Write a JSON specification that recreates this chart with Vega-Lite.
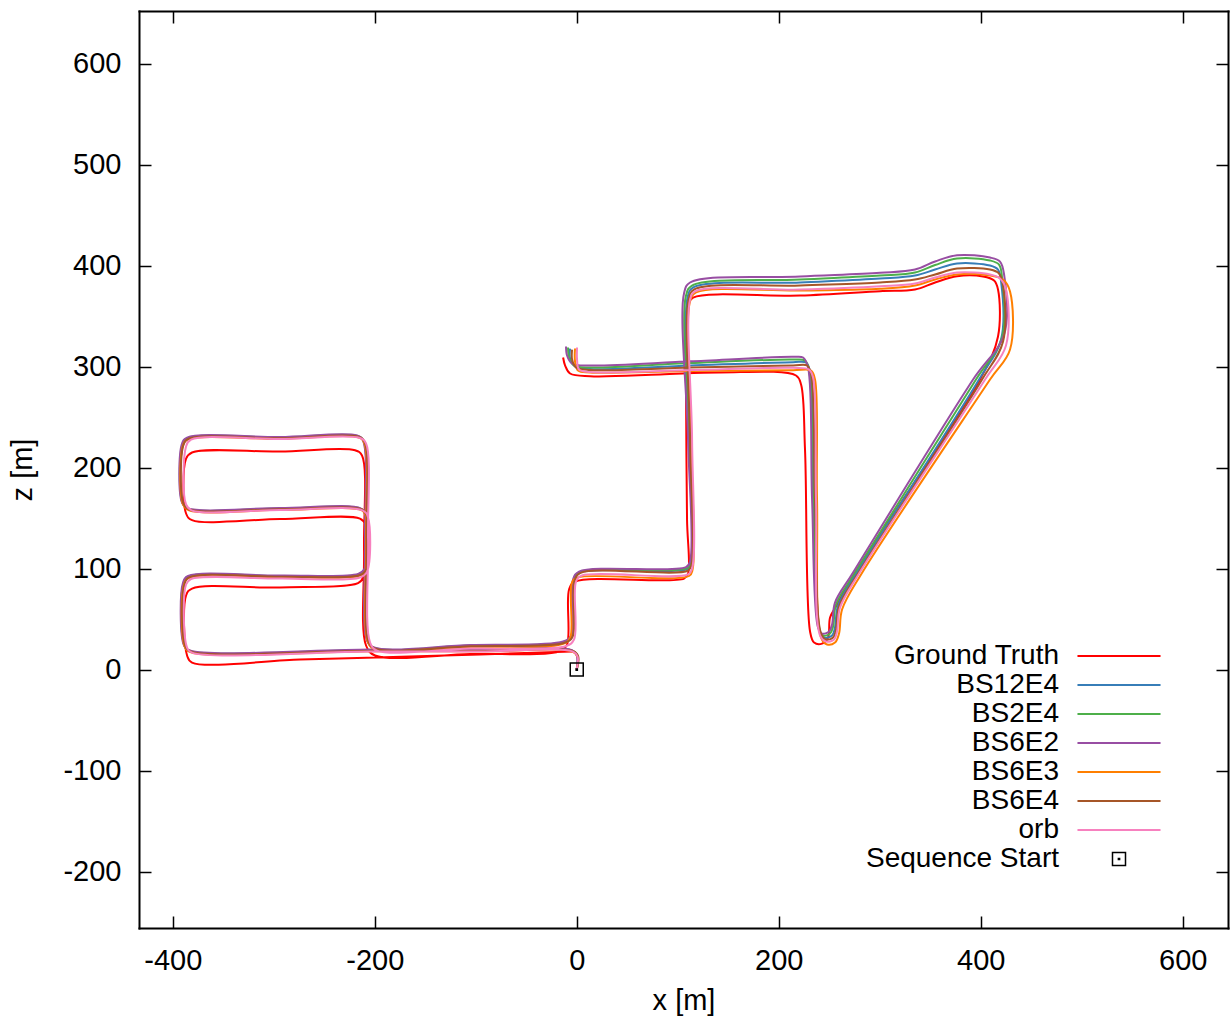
{
"$schema":"https://vega.github.io/schema/vega-lite/v6.json",
"width":1089,"height":917,
"autosize":{"type":"none"},
"padding":{"left":139,"top":11,"right":2,"bottom":91},
"config":{"font":"Liberation Sans","view":{"stroke":null},
"axis":{"domainColor":"black","domainWidth":2,"domainCap":"square","tickColor":"black","tickWidth":1.5,"tickSize":-12,"labelFontSize":29,"labelColor":"black","labelFont":"Liberation Sans","labelPadding":30,"labelFlush":false,"labelOverlap":false,"labelExpr":"'' + datum.value","titleFontSize":29,"titleFont":"Liberation Sans","titleColor":"black","titleFontWeight":"normal","grid":false}},
"datasets":{
"start":[{"label":"Sequence Start","x":0,"z":0}],
"traj":[
{"series":"Ground Truth","i":1,"x":-4.6,"z":17.8},{"series":"Ground Truth","i":2,"x":-95.7,"z":14.9},{"series":"Ground Truth","i":3,"x":-198.7,"z":11.9},{"series":"Ground Truth","i":4,"x":-274.0,"z":9.9},{"series":"Ground Truth","i":5,"x":-380.9,"z":6.9},{"series":"Ground Truth","i":6,"x":-385.8,"z":13.9},{"series":"Ground Truth","i":7,"x":-386.8,"z":73.3},{"series":"Ground Truth","i":8,"x":-380.9,"z":80.2},{"series":"Ground Truth","i":9,"x":-293.8,"z":81.2},{"series":"Ground Truth","i":10,"x":-216.5,"z":85.6},{"series":"Ground Truth","i":11,"x":-211.6,"z":91.1},{"series":"Ground Truth","i":12,"x":-209.6,"z":143.6},{"series":"Ground Truth","i":13,"x":-214.6,"z":149.5},{"series":"Ground Truth","i":14,"x":-293.8,"z":149.0},{"series":"Ground Truth","i":15,"x":-380.9,"z":148.0},{"series":"Ground Truth","i":16,"x":-386.8,"z":154.5},{"series":"Ground Truth","i":17,"x":-386.8,"z":208.9},{"series":"Ground Truth","i":18,"x":-380.9,"z":214.9},{"series":"Ground Truth","i":19,"x":-293.8,"z":215.8},{"series":"Ground Truth","i":20,"x":-219.5,"z":217.1},{"series":"Ground Truth","i":21,"x":-212.6,"z":211.9},{"series":"Ground Truth","i":22,"x":-210.6,"z":118.8},{"series":"Ground Truth","i":23,"x":-208.6,"z":23.8},{"series":"Ground Truth","i":24,"x":-199.7,"z":13.9},{"series":"Ground Truth","i":25,"x":-105.6,"z":15.3},{"series":"Ground Truth","i":26,"x":-16.5,"z":18.3},{"series":"Ground Truth","i":27,"x":-9.6,"z":24.8},{"series":"Ground Truth","i":28,"x":-7.6,"z":79.2},{"series":"Ground Truth","i":29,"x":-1.7,"z":87.1},{"series":"Ground Truth","i":30,"x":106.2,"z":90.1},{"series":"Ground Truth","i":31,"x":110.2,"z":95.0},{"series":"Ground Truth","i":32,"x":109.2,"z":148.5},{"series":"Ground Truth","i":33,"x":108.2,"z":277.2},{"series":"Ground Truth","i":34,"x":108.2,"z":326.7},{"series":"Ground Truth","i":35,"x":110.2,"z":361.4},{"series":"Ground Truth","i":36,"x":115.2,"z":368.3},{"series":"Ground Truth","i":37,"x":221.1,"z":370.3},{"series":"Ground Truth","i":38,"x":300.3,"z":374.6},{"series":"Ground Truth","i":39,"x":334.9,"z":376.2},{"series":"Ground Truth","i":40,"x":354.8,"z":383.2},{"series":"Ground Truth","i":41,"x":376.5,"z":389.4},{"series":"Ground Truth","i":42,"x":402.3,"z":389.1},{"series":"Ground Truth","i":43,"x":413.2,"z":385.1},{"series":"Ground Truth","i":44,"x":417.1,"z":376.2},{"series":"Ground Truth","i":45,"x":417.1,"z":329.7},{"series":"Ground Truth","i":46,"x":399.3,"z":287.1},{"series":"Ground Truth","i":47,"x":275.6,"z":96.0},{"series":"Ground Truth","i":48,"x":256.7,"z":62.4},{"series":"Ground Truth","i":49,"x":250.8,"z":51.5},{"series":"Ground Truth","i":50,"x":248.8,"z":31.7},{"series":"Ground Truth","i":51,"x":242.9,"z":25.7},{"series":"Ground Truth","i":52,"x":235.0,"z":26.7},{"series":"Ground Truth","i":53,"x":231.0,"z":37.6},{"series":"Ground Truth","i":54,"x":226.0,"z":217.8},{"series":"Ground Truth","i":55,"x":222.1,"z":282.2},{"series":"Ground Truth","i":56,"x":217.1,"z":291.1},{"series":"Ground Truth","i":57,"x":141.9,"z":294.1},{"series":"Ground Truth","i":58,"x":82.5,"z":292.1},{"series":"Ground Truth","i":59,"x":13.2,"z":290.4},{"series":"Ground Truth","i":60,"x":-6.6,"z":293.1},{"series":"Ground Truth","i":61,"x":-11.5,"z":301.0},{"series":"Ground Truth","i":62,"x":-13.5,"z":308.9},
{"series":"BS12E4","i":1,"x":0,"z":0},{"series":"BS12E4","i":2,"x":1,"z":13},{"series":"BS12E4","i":3,"x":-3.7,"z":18.3},{"series":"BS12E4","i":4,"x":-94.7,"z":18.8},{"series":"BS12E4","i":5,"x":-203.6,"z":18.8},{"series":"BS12E4","i":6,"x":-381.9,"z":17.8},{"series":"BS12E4","i":7,"x":-387.8,"z":22.8},{"series":"BS12E4","i":8,"x":-388.8,"z":85.1},{"series":"BS12E4","i":9,"x":-383.8,"z":91.6},{"series":"BS12E4","i":10,"x":-292.8,"z":92.1},{"series":"BS12E4","i":11,"x":-215.5,"z":93.6},{"series":"BS12E4","i":12,"x":-209.6,"z":98},{"series":"BS12E4","i":13,"x":-208.6,"z":152.5},{"series":"BS12E4","i":14,"x":-212.6,"z":158.4},{"series":"BS12E4","i":15,"x":-292.8,"z":158.9},{"series":"BS12E4","i":16,"x":-383.8,"z":158.4},{"series":"BS12E4","i":17,"x":-389.8,"z":164.3},{"series":"BS12E4","i":18,"x":-389.8,"z":222.8},{"series":"BS12E4","i":19,"x":-384.8,"z":228.7},{"series":"BS12E4","i":20,"x":-292.8,"z":229.2},{"series":"BS12E4","i":21,"x":-216.5,"z":230.7},{"series":"BS12E4","i":22,"x":-210.6,"z":225.7},{"series":"BS12E4","i":23,"x":-208.6,"z":127.7},{"series":"BS12E4","i":24,"x":-206.6,"z":27.7},{"series":"BS12E4","i":25,"x":-199.7,"z":20.8},{"series":"BS12E4","i":26,"x":-104.6,"z":23.3},{"series":"BS12E4","i":27,"x":-12.5,"z":26.7},{"series":"BS12E4","i":28,"x":-4.6,"z":32.7},{"series":"BS12E4","i":29,"x":-2.7,"z":88.1},{"series":"BS12E4","i":30,"x":3.3,"z":96},{"series":"BS12E4","i":31,"x":109.2,"z":99.5},{"series":"BS12E4","i":32,"x":113.2,"z":104.9},{"series":"BS12E4","i":33,"x":111.7,"z":227.7},{"series":"BS12E4","i":34,"x":109.7,"z":368.3},{"series":"BS12E4","i":35,"x":115.1,"z":378.2},{"series":"BS12E4","i":36,"x":221.1,"z":383.2},{"series":"BS12E4","i":37,"x":300.3,"z":387.1},{"series":"BS12E4","i":38,"x":334.9,"z":390.1},{"series":"BS12E4","i":39,"x":354.8,"z":396.0},{"series":"BS12E4","i":40,"x":376.5,"z":402.0},{"series":"BS12E4","i":41,"x":409.2,"z":400.0},{"series":"BS12E4","i":42,"x":417.1,"z":396.0},{"series":"BS12E4","i":43,"x":420.1,"z":384.2},{"series":"BS12E4","i":44,"x":420.1,"z":326.7},{"series":"BS12E4","i":45,"x":398.3,"z":287.1},{"series":"BS12E4","i":46,"x":277.5,"z":96.0},{"series":"BS12E4","i":47,"x":258.7,"z":63.4},{"series":"BS12E4","i":48,"x":255.7,"z":41.6},{"series":"BS12E4","i":49,"x":252.8,"z":33.7},{"series":"BS12E4","i":50,"x":244.9,"z":31.7},{"series":"BS12E4","i":51,"x":240.9,"z":37.6},{"series":"BS12E4","i":52,"x":235.0,"z":168.3},{"series":"BS12E4","i":53,"x":231.0,"z":295.0},{"series":"BS12E4","i":54,"x":227.0,"z":304.0},{"series":"BS12E4","i":55,"x":214.2,"z":304.3},{"series":"BS12E4","i":56,"x":112.2,"z":301.0},{"series":"BS12E4","i":57,"x":13.2,"z":297.5},{"series":"BS12E4","i":58,"x":-1.7,"z":300.0},{"series":"BS12E4","i":59,"x":-6.6,"z":307.9},{"series":"BS12E4","i":60,"x":-6.6,"z":317.8},
{"series":"BS2E4","i":1,"x":0,"z":0},{"series":"BS2E4","i":2,"x":0.5,"z":13.5},{"series":"BS2E4","i":3,"x":-4.2,"z":18.8},{"series":"BS2E4","i":4,"x":-95.2,"z":19.3},{"series":"BS2E4","i":5,"x":-204.1,"z":19.3},{"series":"BS2E4","i":6,"x":-382.4,"z":18.3},{"series":"BS2E4","i":7,"x":-388.3,"z":23.3},{"series":"BS2E4","i":8,"x":-389.3,"z":85.6},{"series":"BS2E4","i":9,"x":-384.3,"z":92.1},{"series":"BS2E4","i":10,"x":-293.3,"z":92.6},{"series":"BS2E4","i":11,"x":-216,"z":94.1},{"series":"BS2E4","i":12,"x":-210.1,"z":98.5},{"series":"BS2E4","i":13,"x":-209.1,"z":153},{"series":"BS2E4","i":14,"x":-213.1,"z":158.9},{"series":"BS2E4","i":15,"x":-293.3,"z":159.4},{"series":"BS2E4","i":16,"x":-384.3,"z":158.9},{"series":"BS2E4","i":17,"x":-390.3,"z":164.8},{"series":"BS2E4","i":18,"x":-390.3,"z":223.3},{"series":"BS2E4","i":19,"x":-385.3,"z":229.2},{"series":"BS2E4","i":20,"x":-293.3,"z":229.7},{"series":"BS2E4","i":21,"x":-217,"z":231.2},{"series":"BS2E4","i":22,"x":-211.1,"z":226.2},{"series":"BS2E4","i":23,"x":-209.1,"z":128.2},{"series":"BS2E4","i":24,"x":-207.1,"z":28.2},{"series":"BS2E4","i":25,"x":-200.2,"z":21.3},{"series":"BS2E4","i":26,"x":-105.1,"z":23.8},{"series":"BS2E4","i":27,"x":-13,"z":27.2},{"series":"BS2E4","i":28,"x":-5.1,"z":33.2},{"series":"BS2E4","i":29,"x":-3.2,"z":88.6},{"series":"BS2E4","i":30,"x":2.8,"z":96.5},{"series":"BS2E4","i":31,"x":109.2,"z":100.5},{"series":"BS2E4","i":32,"x":113.2,"z":105.9},{"series":"BS2E4","i":33,"x":111.2,"z":227.7},{"series":"BS2E4","i":34,"x":108.2,"z":370.3},{"series":"BS2E4","i":35,"x":114.2,"z":380.2},{"series":"BS2E4","i":36,"x":221.1,"z":386.1},{"series":"BS2E4","i":37,"x":300.3,"z":390.1},{"series":"BS2E4","i":38,"x":334.9,"z":393.1},{"series":"BS2E4","i":39,"x":354.8,"z":400.5},{"series":"BS2E4","i":40,"x":376.5,"z":406.9},{"series":"BS2E4","i":41,"x":409.2,"z":405.0},{"series":"BS2E4","i":42,"x":418.1,"z":401.0},{"series":"BS2E4","i":43,"x":421.1,"z":388.1},{"series":"BS2E4","i":44,"x":421.1,"z":328.7},{"series":"BS2E4","i":45,"x":395.3,"z":287.1},{"series":"BS2E4","i":46,"x":275.5,"z":96.0},{"series":"BS2E4","i":47,"x":256.7,"z":64.4},{"series":"BS2E4","i":48,"x":253.8,"z":42.6},{"series":"BS2E4","i":49,"x":250.8,"z":35.6},{"series":"BS2E4","i":50,"x":243.9,"z":33.7},{"series":"BS2E4","i":51,"x":239.9,"z":39.6},{"series":"BS2E4","i":52,"x":234.0,"z":168.3},{"series":"BS2E4","i":53,"x":230.0,"z":297.0},{"series":"BS2E4","i":54,"x":226.0,"z":305.9},{"series":"BS2E4","i":55,"x":214.2,"z":306.9},{"series":"BS2E4","i":56,"x":112.2,"z":303.5},{"series":"BS2E4","i":57,"x":13.2,"z":299.0},{"series":"BS2E4","i":58,"x":-2.7,"z":301.0},{"series":"BS2E4","i":59,"x":-7.6,"z":308.9},{"series":"BS2E4","i":60,"x":-8.6,"z":318.8},
{"series":"BS6E2","i":1,"x":0,"z":0},{"series":"BS6E2","i":2,"x":0,"z":14},{"series":"BS6E2","i":3,"x":-4.7,"z":19.3},{"series":"BS6E2","i":4,"x":-95.7,"z":19.8},{"series":"BS6E2","i":5,"x":-204.6,"z":19.8},{"series":"BS6E2","i":6,"x":-382.9,"z":18.8},{"series":"BS6E2","i":7,"x":-388.8,"z":23.8},{"series":"BS6E2","i":8,"x":-389.8,"z":86.1},{"series":"BS6E2","i":9,"x":-384.8,"z":92.6},{"series":"BS6E2","i":10,"x":-293.8,"z":93.1},{"series":"BS6E2","i":11,"x":-216.5,"z":94.6},{"series":"BS6E2","i":12,"x":-210.6,"z":99.0},{"series":"BS6E2","i":13,"x":-209.6,"z":153.5},{"series":"BS6E2","i":14,"x":-213.6,"z":159.4},{"series":"BS6E2","i":15,"x":-293.8,"z":159.9},{"series":"BS6E2","i":16,"x":-384.8,"z":159.4},{"series":"BS6E2","i":17,"x":-390.8,"z":165.3},{"series":"BS6E2","i":18,"x":-390.8,"z":223.8},{"series":"BS6E2","i":19,"x":-385.8,"z":229.7},{"series":"BS6E2","i":20,"x":-293.8,"z":230.2},{"series":"BS6E2","i":21,"x":-217.5,"z":231.7},{"series":"BS6E2","i":22,"x":-211.6,"z":226.7},{"series":"BS6E2","i":23,"x":-209.6,"z":128.7},{"series":"BS6E2","i":24,"x":-207.6,"z":28.7},{"series":"BS6E2","i":25,"x":-200.7,"z":21.8},{"series":"BS6E2","i":26,"x":-105.6,"z":24.3},{"series":"BS6E2","i":27,"x":-13.5,"z":27.7},{"series":"BS6E2","i":28,"x":-5.6,"z":33.7},{"series":"BS6E2","i":29,"x":-3.7,"z":89.1},{"series":"BS6E2","i":30,"x":2.3,"z":97.0},{"series":"BS6E2","i":31,"x":108.2,"z":101.5},{"series":"BS6E2","i":32,"x":112.2,"z":106.9},{"series":"BS6E2","i":33,"x":110.2,"z":227.7},{"series":"BS6E2","i":34,"x":106.2,"z":372.3},{"series":"BS6E2","i":35,"x":112.2,"z":383.2},{"series":"BS6E2","i":36,"x":221.1,"z":389.1},{"series":"BS6E2","i":37,"x":300.3,"z":392.8},{"series":"BS6E2","i":38,"x":334.9,"z":396.0},{"series":"BS6E2","i":39,"x":354.8,"z":404.0},{"series":"BS6E2","i":40,"x":376.5,"z":410.2},{"series":"BS6E2","i":41,"x":409.2,"z":407.9},{"series":"BS6E2","i":42,"x":419.1,"z":403.9},{"series":"BS6E2","i":43,"x":423.1,"z":391.1},{"series":"BS6E2","i":44,"x":423.1,"z":331.7},{"series":"BS6E2","i":45,"x":392.4,"z":287.1},{"series":"BS6E2","i":46,"x":273.6,"z":96.0},{"series":"BS6E2","i":47,"x":255.7,"z":66.3},{"series":"BS6E2","i":48,"x":252.8,"z":44.6},{"series":"BS6E2","i":49,"x":249.8,"z":37.6},{"series":"BS6E2","i":50,"x":242.9,"z":35.6},{"series":"BS6E2","i":51,"x":238.9,"z":41.6},{"series":"BS6E2","i":52,"x":233.0,"z":168.3},{"series":"BS6E2","i":53,"x":229.0,"z":299.0},{"series":"BS6E2","i":54,"x":224.1,"z":308.9},{"series":"BS6E2","i":55,"x":214.2,"z":309.6},{"series":"BS6E2","i":56,"x":112.2,"z":305.2},{"series":"BS6E2","i":57,"x":13.2,"z":301.0},{"series":"BS6E2","i":58,"x":-4.7,"z":303.0},{"series":"BS6E2","i":59,"x":-9.6,"z":310.9},{"series":"BS6E2","i":60,"x":-10.6,"z":319.8},
{"series":"BS6E3","i":1,"x":0,"z":0},{"series":"BS6E3","i":2,"x":1,"z":12.2},{"series":"BS6E3","i":3,"x":-3.7,"z":17.5},{"series":"BS6E3","i":4,"x":-94.7,"z":18},{"series":"BS6E3","i":5,"x":-203.6,"z":18},{"series":"BS6E3","i":6,"x":-381.9,"z":17},{"series":"BS6E3","i":7,"x":-387.8,"z":22},{"series":"BS6E3","i":8,"x":-388.8,"z":84.3},{"series":"BS6E3","i":9,"x":-383.8,"z":90.8},{"series":"BS6E3","i":10,"x":-292.8,"z":91.3},{"series":"BS6E3","i":11,"x":-215.5,"z":92.8},{"series":"BS6E3","i":12,"x":-209.6,"z":97.2},{"series":"BS6E3","i":13,"x":-208.6,"z":151.7},{"series":"BS6E3","i":14,"x":-212.6,"z":157.6},{"series":"BS6E3","i":15,"x":-292.8,"z":158.1},{"series":"BS6E3","i":16,"x":-383.8,"z":157.6},{"series":"BS6E3","i":17,"x":-389.8,"z":163.5},{"series":"BS6E3","i":18,"x":-389.8,"z":222},{"series":"BS6E3","i":19,"x":-384.8,"z":227.9},{"series":"BS6E3","i":20,"x":-292.8,"z":228.4},{"series":"BS6E3","i":21,"x":-216.5,"z":229.9},{"series":"BS6E3","i":22,"x":-210.6,"z":224.9},{"series":"BS6E3","i":23,"x":-208.6,"z":126.9},{"series":"BS6E3","i":24,"x":-206.6,"z":26.9},{"series":"BS6E3","i":25,"x":-199.7,"z":20},{"series":"BS6E3","i":26,"x":-104.6,"z":22.5},{"series":"BS6E3","i":27,"x":-13.5,"z":25.5},{"series":"BS6E3","i":28,"x":-6.5,"z":31.5},{"series":"BS6E3","i":29,"x":-4.6,"z":86.5},{"series":"BS6E3","i":30,"x":1.5,"z":91.3},{"series":"BS6E3","i":31,"x":111.2,"z":92.6},{"series":"BS6E3","i":32,"x":114.7,"z":99.0},{"series":"BS6E3","i":33,"x":113.2,"z":227.7},{"series":"BS6E3","i":34,"x":112.2,"z":364.4},{"series":"BS6E3","i":35,"x":118.1,"z":373.3},{"series":"BS6E3","i":36,"x":221.1,"z":375.2},{"series":"BS6E3","i":37,"x":300.3,"z":376.9},{"series":"BS6E3","i":38,"x":334.9,"z":380.2},{"series":"BS6E3","i":39,"x":354.8,"z":386.1},{"series":"BS6E3","i":40,"x":376.5,"z":391.1},{"series":"BS6E3","i":41,"x":409.2,"z":390.1},{"series":"BS6E3","i":42,"x":422.1,"z":386.1},{"series":"BS6E3","i":43,"x":429.0,"z":374.3},{"series":"BS6E3","i":44,"x":429.0,"z":316.8},{"series":"BS6E3","i":45,"x":409.2,"z":287.1},{"series":"BS6E3","i":46,"x":281.5,"z":94.1},{"series":"BS6E3","i":47,"x":262.7,"z":59.4},{"series":"BS6E3","i":48,"x":259.7,"z":35.6},{"series":"BS6E3","i":49,"x":255.7,"z":26.7},{"series":"BS6E3","i":50,"x":247.8,"z":24.8},{"series":"BS6E3","i":51,"x":241.9,"z":31.7},{"series":"BS6E3","i":52,"x":237.9,"z":168.3},{"series":"BS6E3","i":53,"x":235.9,"z":287.1},{"series":"BS6E3","i":54,"x":232.0,"z":296.0},{"series":"BS6E3","i":55,"x":214.2,"z":296.3},{"series":"BS6E3","i":56,"x":112.2,"z":295.5},{"series":"BS6E3","i":57,"x":13.2,"z":294.1},{"series":"BS6E3","i":58,"x":1.3,"z":296.0},{"series":"BS6E3","i":59,"x":-1.7,"z":305.0},{"series":"BS6E3","i":60,"x":-1.7,"z":317.8},
{"series":"BS6E4","i":1,"x":0,"z":0},{"series":"BS6E4","i":2,"x":1.5,"z":12.8},{"series":"BS6E4","i":3,"x":-3.2,"z":18.1},{"series":"BS6E4","i":4,"x":-94.2,"z":18.6},{"series":"BS6E4","i":5,"x":-203.1,"z":18.6},{"series":"BS6E4","i":6,"x":-381.4,"z":17.6},{"series":"BS6E4","i":7,"x":-387.3,"z":22.6},{"series":"BS6E4","i":8,"x":-388.3,"z":84.9},{"series":"BS6E4","i":9,"x":-383.3,"z":91.4},{"series":"BS6E4","i":10,"x":-292.3,"z":91.9},{"series":"BS6E4","i":11,"x":-215,"z":93.4},{"series":"BS6E4","i":12,"x":-209.1,"z":97.8},{"series":"BS6E4","i":13,"x":-208.1,"z":152.3},{"series":"BS6E4","i":14,"x":-212.1,"z":158.2},{"series":"BS6E4","i":15,"x":-292.3,"z":158.7},{"series":"BS6E4","i":16,"x":-383.3,"z":158.2},{"series":"BS6E4","i":17,"x":-389.3,"z":164.1},{"series":"BS6E4","i":18,"x":-389.3,"z":222.6},{"series":"BS6E4","i":19,"x":-384.3,"z":228.5},{"series":"BS6E4","i":20,"x":-292.3,"z":229},{"series":"BS6E4","i":21,"x":-216,"z":230.5},{"series":"BS6E4","i":22,"x":-210.1,"z":225.5},{"series":"BS6E4","i":23,"x":-208.1,"z":127.5},{"series":"BS6E4","i":24,"x":-206.1,"z":27.5},{"series":"BS6E4","i":25,"x":-199.2,"z":20.6},{"series":"BS6E4","i":26,"x":-104.1,"z":23.1},{"series":"BS6E4","i":27,"x":-12,"z":26.5},{"series":"BS6E4","i":28,"x":-4.1,"z":32.5},{"series":"BS6E4","i":29,"x":-2.2,"z":87.9},{"series":"BS6E4","i":30,"x":3.8,"z":95.8},{"series":"BS6E4","i":31,"x":110.2,"z":98.0},{"series":"BS6E4","i":32,"x":113.7,"z":104.0},{"series":"BS6E4","i":33,"x":112.2,"z":227.7},{"series":"BS6E4","i":34,"x":110.7,"z":366.3},{"series":"BS6E4","i":35,"x":116.1,"z":376.2},{"series":"BS6E4","i":36,"x":221.1,"z":380.2},{"series":"BS6E4","i":37,"x":300.3,"z":383.2},{"series":"BS6E4","i":38,"x":334.9,"z":386.1},{"series":"BS6E4","i":39,"x":354.8,"z":391.1},{"series":"BS6E4","i":40,"x":376.5,"z":397.0},{"series":"BS6E4","i":41,"x":409.2,"z":396.0},{"series":"BS6E4","i":42,"x":418.1,"z":392.1},{"series":"BS6E4","i":43,"x":422.1,"z":380.2},{"series":"BS6E4","i":44,"x":422.1,"z":324.8},{"series":"BS6E4","i":45,"x":401.3,"z":287.1},{"series":"BS6E4","i":46,"x":278.5,"z":95.0},{"series":"BS6E4","i":47,"x":259.7,"z":62.4},{"series":"BS6E4","i":48,"x":256.7,"z":39.6},{"series":"BS6E4","i":49,"x":253.8,"z":31.7},{"series":"BS6E4","i":50,"x":246.8,"z":29.7},{"series":"BS6E4","i":51,"x":241.9,"z":35.6},{"series":"BS6E4","i":52,"x":235.9,"z":168.3},{"series":"BS6E4","i":53,"x":232.0,"z":293.1},{"series":"BS6E4","i":54,"x":228.0,"z":301.0},{"series":"BS6E4","i":55,"x":214.2,"z":301.0},{"series":"BS6E4","i":56,"x":112.2,"z":299.0},{"series":"BS6E4","i":57,"x":13.2,"z":296.5},{"series":"BS6E4","i":58,"x":-0.7,"z":299.0},{"series":"BS6E4","i":59,"x":-4.6,"z":306.9},{"series":"BS6E4","i":60,"x":-4.6,"z":316.8},
{"series":"orb","i":1,"x":0,"z":0},{"series":"orb","i":2,"x":0.8,"z":12.9},{"series":"orb","i":3,"x":-3.7,"z":17.8},{"series":"orb","i":4,"x":-95.7,"z":17.8},{"series":"orb","i":5,"x":-204.6,"z":17.8},{"series":"orb","i":6,"x":-380.9,"z":16.8},{"series":"orb","i":7,"x":-385.8,"z":21.8},{"series":"orb","i":8,"x":-386.8,"z":84.2},{"series":"orb","i":9,"x":-381.9,"z":89.6},{"series":"orb","i":10,"x":-293.8,"z":90.1},{"series":"orb","i":11,"x":-214.6,"z":91.1},{"series":"orb","i":12,"x":-207.6,"z":97.0},{"series":"orb","i":13,"x":-206.6,"z":150.5},{"series":"orb","i":14,"x":-211.6,"z":157.4},{"series":"orb","i":15,"x":-293.8,"z":157.9},{"series":"orb","i":16,"x":-380.9,"z":157.4},{"series":"orb","i":17,"x":-386.8,"z":163.4},{"series":"orb","i":18,"x":-386.8,"z":220.8},{"series":"orb","i":19,"x":-381.9,"z":227.7},{"series":"orb","i":20,"x":-293.8,"z":228.2},{"series":"orb","i":21,"x":-214.6,"z":229.2},{"series":"orb","i":22,"x":-208.6,"z":223.8},{"series":"orb","i":23,"x":-206.6,"z":128.7},{"series":"orb","i":24,"x":-204.6,"z":26.7},{"series":"orb","i":25,"x":-197.7,"z":18.8},{"series":"orb","i":26,"x":-105.6,"z":20.8},{"series":"orb","i":27,"x":-10.5,"z":23.3},{"series":"orb","i":28,"x":-2.7,"z":29.7},{"series":"orb","i":29,"x":-0.7,"z":87.1},{"series":"orb","i":30,"x":5.2,"z":93.1},{"series":"orb","i":31,"x":110.2,"z":94.1},{"series":"orb","i":32,"x":114.2,"z":100.0},{"series":"orb","i":33,"x":114.2,"z":227.7},{"series":"orb","i":34,"x":112.2,"z":366.3},{"series":"orb","i":35,"x":117.1,"z":374.3},{"series":"orb","i":36,"x":221.1,"z":376.2},{"series":"orb","i":37,"x":300.3,"z":379.5},{"series":"orb","i":38,"x":334.9,"z":382.2},{"series":"orb","i":39,"x":354.8,"z":388.1},{"series":"orb","i":40,"x":376.5,"z":393.1},{"series":"orb","i":41,"x":409.2,"z":391.1},{"series":"orb","i":42,"x":419.1,"z":387.1},{"series":"orb","i":43,"x":425.0,"z":376.2},{"series":"orb","i":44,"x":425.0,"z":320.8},{"series":"orb","i":45,"x":404.3,"z":287.1},{"series":"orb","i":46,"x":279.5,"z":95.0},{"series":"orb","i":47,"x":260.7,"z":61.4},{"series":"orb","i":48,"x":257.7,"z":37.6},{"series":"orb","i":49,"x":254.8,"z":29.7},{"series":"orb","i":50,"x":246.8,"z":27.7},{"series":"orb","i":51,"x":240.9,"z":33.7},{"series":"orb","i":52,"x":236.9,"z":168.3},{"series":"orb","i":53,"x":234.0,"z":289.1},{"series":"orb","i":54,"x":230.0,"z":297.0},{"series":"orb","i":55,"x":214.2,"z":298.7},{"series":"orb","i":56,"x":112.2,"z":296.5},{"series":"orb","i":57,"x":13.2,"z":294.6},{"series":"orb","i":58,"x":2.3,"z":297.0},{"series":"orb","i":59,"x":0.3,"z":306.9},{"series":"orb","i":60,"x":0.3,"z":318.8}
]},
"layer":[
{"data":{"name":"traj"},
 "mark":{"type":"line","strokeWidth":2,"strokeJoin":"round","interpolate":"catmull-rom"},
 "encoding":{
  "x":{"field":"x","type":"quantitative","scale":{"domain":[-433.4,644.8],"nice":false,"zero":false},
       "axis":{"orient":"bottom","values":[-400,-200,0,200,400,600],"title":"x [m]","titleY":72,"titleBaseline":"middle"}},
  "y":{"field":"z","type":"quantitative","scale":{"domain":[-255.9,652],"nice":false,"zero":false},
       "axis":{"orient":"left","values":[-200,-100,0,100,200,300,400,500,600],"title":"z [m]","titleAngle":270,"titleX":-117,"titleY":458.5,"titleBaseline":"middle","titleAlign":"center"}},
  "color":{"field":"series","type":"nominal",
    "scale":{"domain":["Ground Truth","BS12E4","BS2E4","BS6E2","BS6E3","BS6E4","orb"],
             "range":["#ff0000","#377eb8","#4daf4a","#984ea3","#ff7f00","#a65628","#f781bf"]},
    "legend":{"title":null,"orient":"none","legendX":892,"legendY":631,"padding":0,"symbolType":"M-5,0H5","symbolSize":276,"symbolStrokeWidth":2,"labelAlign":"right","labelOffset":-74,"symbolOffset":74,"labelFontSize":28,"labelFont":"Liberation Sans","labelColor":"black","labelLimit":400,"rowPadding":1}},
  "order":{"field":"i","type":"quantitative"}
 }},
{"data":{"name":"start"},
 "mark":{"type":"point","filled":false,"color":"black","strokeWidth":1.5,"size":234,"opacity":1},
 "encoding":{
  "x":{"field":"x","type":"quantitative","scale":{"domain":[-433.4,644.8],"nice":false,"zero":false},
       "axis":{"orient":"top","values":[-400,-200,0,200,400,600],"labels":false,"title":null}},
  "y":{"field":"z","type":"quantitative","scale":{"domain":[-255.9,652],"nice":false,"zero":false},
       "axis":{"orient":"right","values":[-200,-100,0,100,200,300,400,500,600],"labels":false,"title":null}},
  "shape":{"field":"label","type":"nominal","scale":{"domain":["Sequence Start"],"range":["M-0.85,-0.85H0.85V0.85H-0.85Z M-0.08,-0.08H0.08V0.08H-0.08Z"]},
    "legend":{"title":null,"orient":"none","legendX":892,"legendY":834,"padding":0,"symbolSize":234,"symbolStrokeWidth":1.5,"symbolStrokeColor":"black","symbolFillColor":"transparent","labelAlign":"right","labelOffset":-74,"symbolOffset":74,"labelFontSize":28,"labelFont":"Liberation Sans","labelColor":"black","labelLimit":400}}
 }}
],
"resolve":{"axis":{"x":"independent","y":"independent"}}
}
